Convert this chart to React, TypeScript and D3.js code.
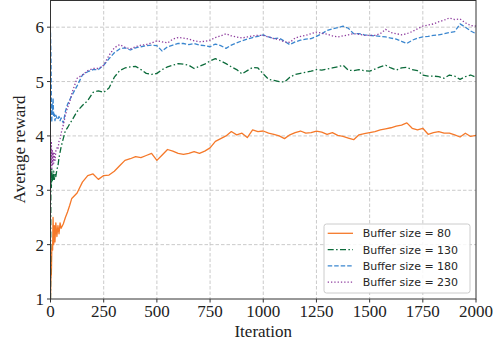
import React from "react";
import * as d3 from "d3";

const iterations = [
  0, 2, 4, 6, 8, 10, 12, 15, 18, 21, 25, 30, 35, 40, 45, 50, 60, 70, 80, 90,
  100, 125, 150, 175, 200, 225, 250, 275, 300, 325, 350, 375, 400, 425, 450, 475,
  500, 525, 550, 575, 600, 625, 650, 675, 700, 725, 750, 775, 800, 825, 850, 875,
  900, 925, 950, 975, 1000, 1025, 1050, 1075, 1100, 1125, 1150, 1175, 1200, 1225,
  1250, 1275, 1300, 1325, 1350, 1375, 1400, 1425, 1450, 1475, 1500, 1525, 1550,
  1575, 1600, 1625, 1650, 1675, 1700, 1725, 1750, 1775, 1800, 1825, 1850, 1875,
  1900, 1925, 1950, 1975, 2000,
];

const buffer80 = [
  1.0, 1.4, 1.45, 1.9, 2.0, 1.9, 2.5, 2.0, 2.35, 2.05, 2.4, 2.15, 2.35, 2.2, 2.4, 2.3, 2.38, 2.5, 2.6, 2.72,
  2.85, 2.95, 3.15, 3.27, 3.3, 3.2, 3.27, 3.28, 3.35, 3.45, 3.55, 3.58, 3.62, 3.6, 3.64, 3.68,
  3.55, 3.65, 3.75, 3.72, 3.68, 3.66, 3.68, 3.71, 3.68, 3.72, 3.78, 3.9, 3.95, 4.0, 4.08, 4.02,
  4.05, 3.97, 4.11, 4.08, 4.09, 4.05, 4.03, 4.0, 3.95, 4.02, 4.06, 4.09, 4.05, 4.06,
  4.09, 4.07, 4.03, 4.06, 4.01, 3.99, 3.96, 3.93, 4.02, 4.04, 4.06, 4.08, 4.11,
  4.13, 4.15, 4.18, 4.2, 4.24, 4.14, 4.11, 4.14, 4.03, 4.06, 4.08, 4.05, 4.05,
  4.02, 3.98, 4.05, 3.99, 4.01,
];

const buffer130 = [
  1.0, 3.3, 3.05, 3.4, 3.15, 3.3, 3.2, 3.35, 3.2, 3.3, 3.25, 3.38, 3.45, 3.6, 3.7, 3.8, 3.95, 4.1, 4.15, 4.22,
  4.28, 4.45, 4.56, 4.65, 4.8, 4.83, 4.8, 4.88, 5.08, 5.2, 5.25, 5.27, 5.28, 5.22, 5.15, 5.13,
  5.15, 5.22, 5.27, 5.3, 5.33, 5.32, 5.3, 5.24, 5.28, 5.32, 5.38, 5.42, 5.38, 5.33, 5.27, 5.22,
  5.14, 5.2, 5.26, 5.25, 5.14, 5.04, 5.02, 5.0, 4.99, 5.08, 5.13, 5.15, 5.17, 5.19,
  5.22, 5.21, 5.23, 5.25, 5.27, 5.3, 5.21, 5.2, 5.22, 5.2, 5.19, 5.23, 5.27,
  5.3, 5.25, 5.21, 5.25, 5.26, 5.22, 5.2, 5.12, 5.1, 5.1, 5.09, 5.06, 5.12,
  5.1, 5.04, 5.09, 5.12, 5.08,
];

const buffer180 = [
  5.9, 5.5, 4.7, 4.25, 4.6, 4.4, 4.7, 4.35, 4.4, 4.28, 4.38, 4.33, 4.3, 4.36, 4.28, 4.33, 4.24, 4.45, 4.58, 4.66,
  4.74, 4.92, 5.12, 5.18, 5.22, 5.22, 5.3, 5.42, 5.53, 5.6, 5.62, 5.58, 5.62, 5.64, 5.66, 5.67,
  5.66, 5.56, 5.64, 5.67, 5.7, 5.7, 5.68, 5.7, 5.67, 5.66, 5.64, 5.69, 5.66, 5.61, 5.67, 5.71,
  5.75, 5.78, 5.81, 5.83, 5.86, 5.82, 5.79, 5.8, 5.74, 5.68, 5.73, 5.76, 5.78, 5.79,
  5.83, 5.88, 5.94, 5.97, 5.99, 6.02, 5.98, 5.88, 5.88, 5.86, 5.85, 5.84, 5.83,
  5.82, 5.8, 5.78, 5.74, 5.7, 5.76, 5.8, 5.82, 5.83, 5.85, 5.86, 5.88, 5.9,
  5.92, 6.06, 6.0, 5.93, 5.88,
];

const buffer230 = [
  4.0, 3.5, 3.9, 3.4, 3.75, 3.45, 3.7, 3.5, 3.68, 3.55, 3.72, 3.78, 3.75, 3.9, 3.95, 4.05, 4.2, 4.38, 4.52, 4.62,
  4.78, 5.06, 5.12, 5.2, 5.24, 5.24, 5.3, 5.48, 5.62, 5.68, 5.63, 5.6, 5.64, 5.67, 5.68, 5.71,
  5.75, 5.73, 5.71, 5.78, 5.81, 5.8, 5.78, 5.75, 5.73, 5.74, 5.76, 5.81, 5.84, 5.88, 5.84, 5.82,
  5.8, 5.82, 5.84, 5.85, 5.85, 5.82, 5.79, 5.77, 5.73, 5.72, 5.8, 5.83, 5.85, 5.88,
  5.91, 5.89, 5.87, 5.84, 5.82, 5.84, 5.86, 5.88, 5.87, 5.85, 5.85, 5.85, 5.88,
  5.96, 5.9, 5.88, 5.86, 5.88, 5.92, 5.97, 6.02, 6.04, 6.06, 6.1, 6.13, 6.17,
  6.14, 6.15, 6.08, 6.03, 6.02,
];

const seriesLabels = ["Buffer size = 80", "Buffer size = 130", "Buffer size = 180", "Buffer size = 230"];
const seriesValues = [buffer80, buffer130, buffer180, buffer230];
const seriesColors = ["#f5792a", "#0b6b3a", "#3a86cf", "#8e3c9e"];
const seriesDashes = ["none", "6,2.4,1.5,2.4", "4.5,2", "1.3,2"];

const xTicks = [0, 250, 500, 750, 1000, 1250, 1500, 1750, 2000];
const yTicks = [1, 2, 3, 4, 5, 6];

const W = 501;
const H = 348;
const M = { left: 50.5, right: 476, top: 0, bottom: 299 };

export default function App() {
  const x = d3.scaleLinear().domain([0, 2000]).range([M.left, M.right]);
  const y = d3.scaleLinear().domain([1, 6.5]).range([M.bottom, M.top]);
  const line = d3
    .line<number>()
    .x((_, i) => x(iterations[i]))
    .y((d) => y(d));
  const serif = "'Liberation Serif', 'Times New Roman', serif";
  const sans = "'DejaVu Sans', sans-serif";
  const legX = 324;
  const legY = 224;
  const rowH = 16.3;

  return (
    <svg
      width={W}
      height={H}
      style={{ position: "absolute", left: 0, top: 0, background: "#fff" }}
    >
      <defs>
        <clipPath id="plot">
          <rect x={M.left} y={M.top} width={M.right - M.left} height={M.bottom - M.top} />
        </clipPath>
      </defs>
      <rect x={0} y={0} width={W} height={H} fill="#fff" />
      <g stroke="#c4c4c4" strokeWidth={0.9} strokeDasharray="3.5,2">
        {xTicks.slice(1, -1).map((t) => (
          <line key={"gx" + t} x1={x(t)} x2={x(t)} y1={M.top} y2={M.bottom} />
        ))}
        {yTicks.slice(1).map((t) => (
          <line key={"gy" + t} x1={M.left} x2={M.right} y1={y(t)} y2={y(t)} />
        ))}
      </g>
      <g clipPath="url(#plot)" fill="none">
        {seriesValues.map((vals, i) => (
          <path
            key={i}
            d={line(vals) || ""}
            stroke={seriesColors[i]}
            strokeWidth={1.3}
            strokeDasharray={seriesDashes[i]}
            strokeLinejoin="round"
          />
        ))}
      </g>
      <rect
        x={M.left}
        y={M.top + 0.5}
        width={M.right - M.left}
        height={M.bottom - M.top - 0.5}
        fill="none"
        stroke="#333"
        strokeWidth={1}
      />
      <g fontFamily={serif} fontSize={17} fill="#222" textAnchor="middle">
        {xTicks.map((t) => (
          <g key={"xt" + t}>
            <line x1={x(t)} x2={x(t)} y1={M.bottom} y2={M.bottom + 3.5} stroke="#333" />
            <text x={x(t)} y={317}>{t}</text>
          </g>
        ))}
      </g>
      <g fontFamily={serif} fontSize={17} fill="#222" textAnchor="end">
        {yTicks.map((t) => (
          <g key={"yt" + t}>
            <line x1={M.left - 3.5} x2={M.left} y1={y(t)} y2={y(t)} stroke="#333" />
            <text x={44} y={y(t) + 6}>{t}</text>
          </g>
        ))}
      </g>
      <text
        x={(M.left + M.right) / 2}
        y={337}
        textAnchor="middle"
        fontFamily={serif}
        fontSize={17}
        fill="#222"
      >
        Iteration
      </text>
      <text
        transform={`translate(25, ${(M.top + M.bottom) / 2}) rotate(-90)`}
        textAnchor="middle"
        fontFamily={serif}
        fontSize={17}
        fill="#222"
      >
        Average reward
      </text>
      <rect
        x={legX}
        y={legY}
        width={146}
        height={69}
        rx={2.5}
        fill="#fff"
        fillOpacity={0.85}
        stroke="#cccccc"
        strokeWidth={1}
      />
      {seriesLabels.map((lab, i) => {
        const cy = legY + 9.3 + i * rowH;
        return (
          <g key={lab}>
            <line
              x1={legX + 3.7}
              x2={legX + 29}
              y1={cy}
              y2={cy}
              stroke={seriesColors[i]}
              strokeWidth={1.3}
              strokeDasharray={seriesDashes[i]}
            />
            <text x={legX + 38.7} y={cy + 4} fontFamily={sans} fontSize={11} fill="#262626">
              {lab}
            </text>
          </g>
        );
      })}
    </svg>
  );
}
